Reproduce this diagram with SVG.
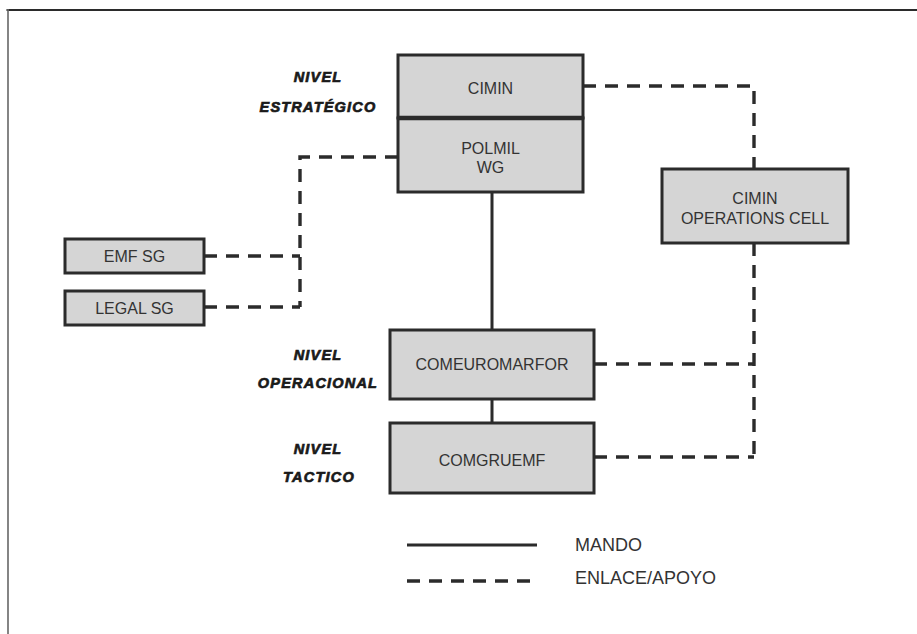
<svg xmlns="http://www.w3.org/2000/svg" width="917" height="634" viewBox="0 0 917 634">
<style>
.box{fill:#d5d5d5;stroke:#2b2b2b;stroke-width:3}
.t{font-family:"Liberation Sans",Arial,sans-serif;font-size:16px;fill:#333;text-anchor:middle}
.lvl{font-family:"Liberation Sans",Arial,sans-serif;font-size:14.5px;font-weight:bold;font-style:italic;fill:#1a1a1a;stroke:#1a1a1a;stroke-width:0.7px;text-anchor:middle;letter-spacing:1.2px}
.solid{stroke:#2b2b2b;stroke-width:3;fill:none}
.dash{stroke:#2b2b2b;stroke-width:3.4;fill:none;stroke-dasharray:13 9}
.leg{font-family:"Liberation Sans",Arial,sans-serif;font-size:18px;fill:#333}
</style>
<rect width="917" height="634" fill="#fff"/>
<g id="frame">
<line x1="6.5" y1="10" x2="917" y2="10" stroke="#2b2b2b" stroke-width="2.2"/>
<line x1="8" y1="9" x2="8" y2="634" stroke="#666" stroke-width="1.6"/>
</g>
<g id="connectors">
<path class="solid" d="M492 192V330M492 399V423"/>
<path class="dash" d="M583 86H754V169"/>
<path class="dash" d="M754 243V457"/>
<path class="dash" d="M594 364H754"/>
<path class="dash" d="M594 457H754"/>
<path class="dash" d="M398 157H300V307"/>
<path class="dash" d="M204 256H300"/>
<path class="dash" d="M204 307H300"/>
</g>
<g id="cimin">
<rect class="box" x="398" y="55" width="185" height="63"/>
<text class="t" x="490.5" y="94">CIMIN</text>
</g>
<g id="polmil">
<rect class="box" x="398" y="118" width="185" height="74"/>
<line x1="398" y1="118" x2="583" y2="118" stroke="#2b2b2b" stroke-width="4.5"/>
<text class="t" x="490.5" y="154">POLMIL</text>
<text class="t" x="490.5" y="173">WG</text>
</g>
<g id="emfsg">
<rect class="box" x="65" y="239" width="139" height="34"/>
<text class="t" x="134.5" y="262">EMF SG</text>
</g>
<g id="legalsg">
<rect class="box" x="65" y="291" width="139" height="34"/>
<text class="t" x="134.5" y="314">LEGAL SG</text>
</g>
<g id="opscell">
<rect class="box" x="662" y="169" width="186" height="74"/>
<text class="t" x="755" y="204">CIMIN</text>
<text class="t" x="755" y="224">OPERATIONS CELL</text>
</g>
<g id="comeuromarfor">
<rect class="box" x="390" y="330" width="204" height="69"/>
<text class="t" x="492" y="370">COMEUROMARFOR</text>
</g>
<g id="comgruemf">
<rect class="box" x="390" y="423" width="204" height="70"/>
<text class="t" x="492" y="466">COMGRUEMF</text>
</g>
<g id="levels">
<text class="lvl" x="318" y="82">NIVEL</text>
<text class="lvl" x="318" y="112">ESTRATÉGICO</text>
<text class="lvl" x="318" y="360">NIVEL</text>
<text class="lvl" x="318" y="388">OPERACIONAL</text>
<text class="lvl" x="318" y="454">NIVEL</text>
<text class="lvl" x="319" y="482">TACTICO</text>
</g>
<g id="legend">
<line class="solid" x1="407" y1="545" x2="537" y2="545"/>
<line class="dash" x1="407" y1="581" x2="537" y2="581"/>
<text class="leg" x="575" y="551">MANDO</text>
<text class="leg" x="575" y="584">ENLACE/APOYO</text>
</g>
</svg>
